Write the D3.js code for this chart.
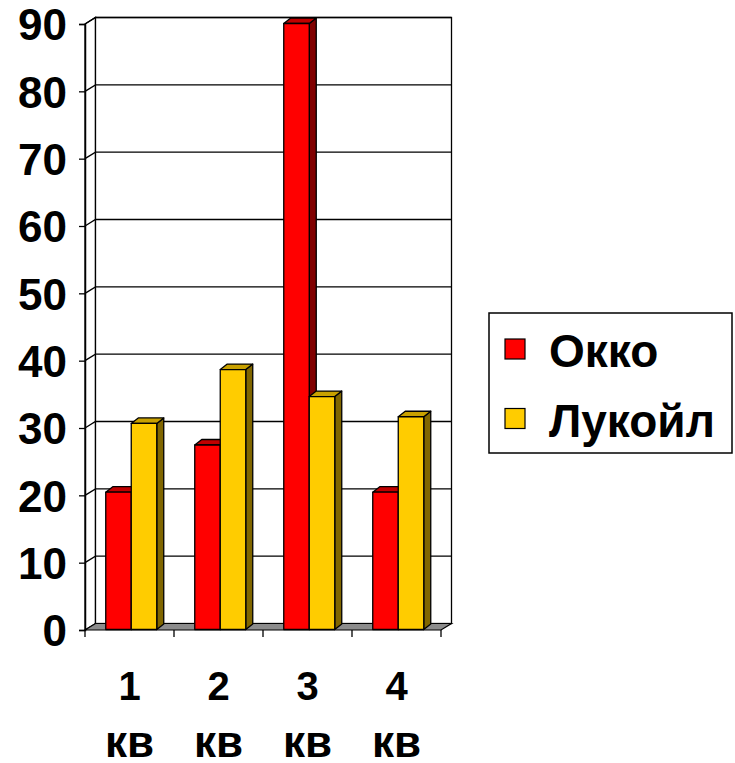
<!DOCTYPE html>
<html>
<head>
<meta charset="utf-8">
<script src="https://cdn.jsdelivr.net/npm/d3@7/dist/d3.min.js"></script>
<style>
  html, body { margin: 0; padding: 0; background: #fff; }
  svg { display: block; }
  text { font-family: "Liberation Sans", Arial, sans-serif; font-weight: bold; fill: #000; }
</style>
</head>
<body>
<svg id="chart" width="735" height="763"></svg>
<script>
// Quarterly figures for two fuel retailers
const quarters = ["1", "2", "3", "4"];
const quarterSuffix = "кв";
const seriesNames = ["Окко", "Лукойл"];
const okkoValues = [20.4, 27.4, 90, 20.4];
const lukoilValues = [30.6, 38.6, 34.6, 31.6];
const yTicks = [0, 10, 20, 30, 40, 50, 60, 70, 80, 90];

const colors = {
  "Окко":   { front: "#ff0000", top: "#c00000", side: "#800000" },
  "Лукойл": { front: "#ffcc00", top: "#c9a100", side: "#806600" }
};

const svg = d3.select("#chart");

// Plot geometry (front plane) and 3D offsets
const x0 = 85, x1 = 441, yBase = 630, yTop = 24;
const DX = 10.5, DY = -6.5;      // wall depth
const BDX = 7, BDY = -5.5;       // column depth
const SX = (DX - BDX) / 2, SY = (DY - BDY) / 2;

const x = d3.scaleBand().domain(quarters).range([x0, x1]).padding(0);
const xs = d3.scaleBand().domain(seriesNames).range([0, x.bandwidth()]).paddingInner(0).paddingOuter(0.745);
const y = d3.scaleLinear().domain([0, 90]).range([yBase, yTop]);

const data = quarters.map((q, i) => ({
  q, values: [
    { name: seriesNames[0], v: okkoValues[i] },
    { name: seriesNames[1], v: lukoilValues[i] }
  ]
}));

const walls = svg.append("g");
// left side wall
walls.append("path")
  .attr("d", `M${x0},${y(90)}L${x0 + DX},${y(90) + DY}L${x0 + DX},${yBase + DY}L${x0},${yBase}Z`)
  .attr("fill", "#fff").attr("stroke", "#000").attr("stroke-width", 1.3);
// back wall
walls.append("rect")
  .attr("x", x0 + DX).attr("y", y(90) + DY)
  .attr("width", x1 - x0).attr("height", yBase - y(90))
  .attr("fill", "#fff").attr("stroke", "#000").attr("stroke-width", 1.3);

// gridlines across side wall and back wall
walls.selectAll("path.grid").data(yTicks.filter(t => t > 0)).join("path")
  .attr("class", "grid")
  .attr("d", t => `M${x0},${y(t)}L${x0 + DX},${y(t) + DY}L${x1 + DX},${y(t) + DY}`)
  .attr("fill", "none").attr("stroke", "#000").attr("stroke-width", 1.3);

// floor
walls.append("path")
  .attr("d", `M${x0},${yBase}L${x1},${yBase}L${x1 + DX},${yBase + DY}L${x0 + DX},${yBase + DY}Z`)
  .attr("fill", "#8c8c8c").attr("stroke", "#000").attr("stroke-width", 1.2);

// value axis
const yAxis = d3.axisLeft(y).tickValues(yTicks).tickSize(6).tickPadding(12);
const yg = svg.append("g").attr("transform", `translate(${x0},0)`).call(yAxis);
yg.select(".domain").attr("stroke", "#000").attr("stroke-width", 1.5);
yg.selectAll(".tick line").attr("stroke", "#000").attr("stroke-width", 1.3);
yg.selectAll(".tick text")
  .style("font-family", '"Liberation Sans", Arial, sans-serif')
  .style("font-weight", "bold").style("font-size", "44px").attr("fill", "#000")
  .attr("dy", "0.36em");

// category ticks
svg.append("g").selectAll("line")
  .data(quarters.map(q => x(q)).concat([x1])).join("line")
  .attr("x1", d => d).attr("x2", d => d)
  .attr("y1", yBase).attr("y2", yBase + 7)
  .attr("stroke", "#000").attr("stroke-width", 1.3);

// category labels (two lines)
const labels = svg.append("g").selectAll("g").data(quarters).join("g")
  .attr("transform", q => `translate(${x(q) + x.bandwidth() / 2},0)`);
labels.append("text").attr("y", 700).attr("text-anchor", "middle")
  .style("font-size", "40px").text(q => q);
labels.append("text").attr("y", 757).attr("text-anchor", "middle")
  .style("font-size", "44px").text(quarterSuffix);

// 3D columns
const bars = svg.append("g");
data.forEach(d => {
  d.values.forEach(s => {
    const c = colors[s.name];
    const bx0 = x(d.q) + xs(s.name) + SX;
    const bx1 = bx0 + xs.bandwidth();
    const by = y(s.v) + SY;
    const bb = yBase + SY;
    const g = bars.append("g").attr("stroke", "#000").attr("stroke-width", 1.3).attr("stroke-linejoin", "round");
    g.append("path").attr("fill", c.side)
      .attr("d", `M${bx1},${by}L${bx1 + BDX},${by + BDY}L${bx1 + BDX},${bb + BDY}L${bx1},${bb}Z`);
    g.append("path").attr("fill", c.top)
      .attr("d", `M${bx0},${by}L${bx0 + BDX},${by + BDY}L${bx1 + BDX},${by + BDY}L${bx1},${by}Z`);
    g.append("rect").attr("fill", c.front)
      .attr("x", bx0).attr("y", by).attr("width", bx1 - bx0).attr("height", bb - by);
  });
});

// legend
const legend = svg.append("g");
legend.append("rect").attr("x", 489).attr("y", 313).attr("width", 243).attr("height", 140)
  .attr("fill", "#fff").attr("stroke", "#000").attr("stroke-width", 1.5);
const items = legend.selectAll("g.item").data(seriesNames).join("g")
  .attr("class", "item")
  .attr("transform", (d, i) => `translate(505,${339 + i * 69.5})`);
items.append("rect").attr("width", 20).attr("height", 20)
  .attr("fill", d => colors[d].front).attr("stroke", "#000").attr("stroke-width", 1.2);
items.append("text").attr("x", 44).attr("y", 28)
  .style("font-size", "46px").text(d => d);
</script>
</body>
</html>
